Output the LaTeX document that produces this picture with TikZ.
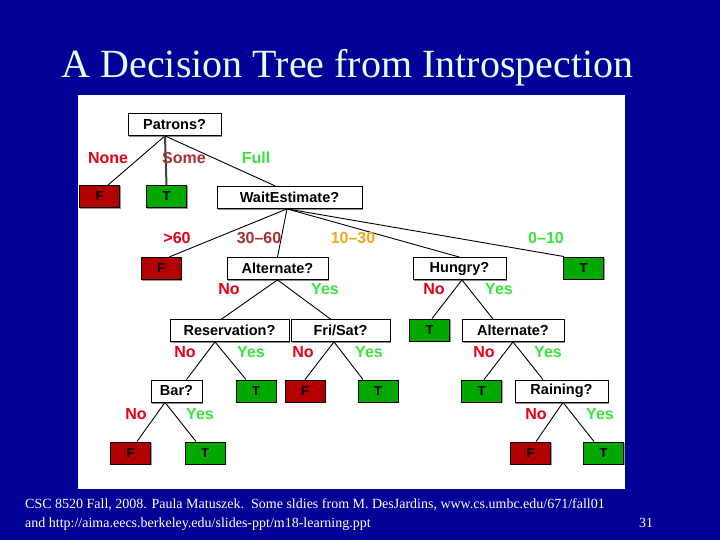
\documentclass[tikz,border=0pt]{standalone}
\usepackage{fontspec}
\setmainfont{Liberation Serif}
\setsansfont{Liberation Sans}
\newfontfamily\leaffont[Color=000000]{Liberation Sans Bold}
\usetikzlibrary{shadows,backgrounds}

\definecolor{slideblue}{RGB}{0,0,150}
\definecolor{titlecyan}{RGB}{225,255,255}
\definecolor{leafred}{RGB}{178,0,0}
\definecolor{leafgreen}{RGB}{0,168,0}
\definecolor{labred}{RGB}{226,0,24}
\definecolor{labbrown}{RGB}{170,48,48}
\definecolor{labgreen}{RGB}{60,226,60}
\definecolor{laborange}{RGB}{240,168,24}

\begin{document}
\begin{tikzpicture}[
  x=1pt, y=-1pt,
  test/.style={draw=black, fill=white, line width=0.8pt, inner sep=0pt,
    minimum height=22pt, font=\sffamily\bfseries\fontsize{14.5}{16}\selectfont,
    drop shadow={shadow xshift=1.2pt, shadow yshift=-1.6pt, fill=black!45, opacity=1}},
  leaf/.style={draw=black, line width=0.9pt, inner sep=0pt, minimum width=40pt,
    minimum height=22pt, font=\leaffont\fontsize{13}{15}\selectfont},
  leafbox/.style={fill=#1},
  lab/.style={inner sep=0pt, font=\sffamily\bfseries\fontsize{16}{18}\selectfont},
  br/.style={line width=0.9pt}
]
  \useasboundingbox (0,0) rectangle (720,540);

  \node[anchor=base, text=titlecyan, font=\fontsize{40}{44}\selectfont] (title) at (347.5,78)
    {A Decision Tree from Introspection};

  % questions
  \node[test, minimum width=93pt] (patrons) at (174.5,124.5) {Patrons?};
  \node[test, minimum width=145pt] (wait) at (289.5,197.5) {WaitEstimate?};
  \node[test, minimum width=101pt] (alt1) at (277.5,268.5) {Alternate?};
  \node[test, minimum width=93pt] (hungry) at (459.5,268.5) {Hungry?};
  \node[test, minimum width=119pt] (res) at (229.5,330.5) {Reservation?};
  \node[test, minimum width=99pt] (frisat) at (340.5,330.5) {Fri/Sat?};
  \node[test, minimum width=102pt] (alt2) at (513,330.5) {Alternate?};
  \node[test, minimum width=51pt] (bar) at (176.5,391) {Bar?};
  \node[test, minimum width=93pt] (rain) at (561.5,391) {Raining?};

  % leaves
  \node[leaf] (f1) at (99.5,196.5) {F};
  \node[leaf] (t1) at (166.5,196.5) {T};
  \node[leaf] (f2) at (161,268.5) {F};
  \node[leaf] (t2) at (583.5,268) {T};
  \node[leaf] (t6) at (429.5,330) {T};
  \node[leaf] (t3) at (256,391) {T};
  \node[leaf] (f3) at (305,391) {F};
  \node[leaf] (t4) at (378,391) {T};
  \node[leaf] (t7) at (481.5,391) {T};
  \node[leaf] (f4) at (130.5,453) {F};
  \node[leaf] (t5) at (205,453) {T};
  \node[leaf] (f5) at (530.5,453) {F};
  \node[leaf] (t8) at (603.5,453) {T};

  \begin{scope}[on background layer]
    \fill[slideblue] (0,0) rectangle (720,540);
    \fill[white] (78,95) rectangle (625,489);
    \foreach \n in {f1,f2,f3,f4,f5}
      \fill[black!40] ([shift={(1pt,-1pt)}]\n.north west) rectangle ([shift={(1pt,-1pt)}]\n.south east);
    \foreach \n in {t1,t2,t3,t4,t5,t6,t7,t8}
      \fill[black!40] ([shift={(1pt,-1pt)}]\n.north west) rectangle ([shift={(1pt,-1pt)}]\n.south east);
    \foreach \n in {f1,f2,f3,f4,f5}
      \fill[leafbox=leafred] (\n.north west) rectangle (\n.south east);
    \foreach \n in {t1,t2,t3,t4,t5,t6,t7,t8}
      \fill[leafbox=leafgreen] (\n.north west) rectangle (\n.south east);
  \end{scope}

  % branches
  \draw[br] ([xshift=-9.5pt]patrons.south) -- ([xshift=8.5pt]f1.north);
  \draw[line width=2pt, black!75] ([xshift=-9.5pt]patrons.south) -- (t1.north);
  \draw[br] ([xshift=-9.5pt]patrons.south) -- ([xshift=-14pt]wait.north);
  \draw[br] ([xshift=-2.5pt]wait.south) -- ([xshift=8pt]f2.north);
  \draw[br] ([xshift=-2.5pt]wait.south) -- (alt1.north);
  \draw[br] ([xshift=-2.5pt]wait.south) -- (hungry.north);
  \draw[br] ([xshift=-2.5pt]wait.south) -- ([xshift=1pt]t2.north west);
  \draw[br] (alt1.south) -- ([xshift=-8pt]res.north);
  \draw[br] (alt1.south) -- ([xshift=-10pt]frisat.north);
  \draw[br] ([xshift=-14.5pt]res.south) -- ([xshift=10pt]bar.north);
  \draw[br] ([xshift=-14.5pt]res.south) -- ([xshift=-10pt]t3.north);
  \draw[br] ([xshift=-6.5pt]frisat.south) -- (f3.north);
  \draw[br] ([xshift=-6.5pt]frisat.south) -- ([xshift=-15pt]t4.north);
  \draw[br] ([xshift=-11.5pt]bar.south) -- ([xshift=6.5pt]f4.north);
  \draw[br] ([xshift=-11.5pt]bar.south) -- ([xshift=-9pt]t5.north);
  \draw[br] ([xshift=2.5pt]hungry.south) -- ([xshift=2.5pt]t6.north);
  \draw[br] ([xshift=2.5pt]hungry.south) -- ([xshift=-20pt]alt2.north);
  \draw[br] (alt2.south) -- ([xshift=2.5pt]t7.north);
  \draw[br] (alt2.south) -- ([xshift=-18.5pt]rain.north);
  \draw[br] ([xshift=1.5pt]rain.south) -- ([xshift=5.5pt]f5.north);
  \draw[br] ([xshift=1.5pt]rain.south) -- ([xshift=-9.5pt]t8.north);

  % branch labels
  \node[lab, text=labred] (none) at (108,158) {None};
  \node[lab, text=labbrown] (some) at (184,158) {Some};
  \node[lab, text=labgreen] (full) at (256,158) {Full};
  \node[lab, text=labred] (over60) at (177,238) {>60};
  \node[lab, text=labbrown] (w3060) at (259,238) {30--60};
  \node[lab, text=laborange] (w1030) at (353,238) {10--30};
  \node[lab, text=labgreen] (w010) at (546,238) {0--10};
  \node[lab, text=labred] (a1no) at (229,289) {No};
  \node[lab, text=labgreen] (a1yes) at (325,289) {Yes};
  \node[lab, text=labred] (hno) at (434,289) {No};
  \node[lab, text=labgreen] (hyes) at (499,289) {Yes};
  \node[lab, text=labred] (rno) at (185,352) {No};
  \node[lab, text=labgreen] (ryes) at (251,352) {Yes};
  \node[lab, text=labred] (fno) at (303,352) {No};
  \node[lab, text=labgreen] (fyes) at (369,352) {Yes};
  \node[lab, text=labred] (a2no) at (484,352) {No};
  \node[lab, text=labgreen] (a2yes) at (548,352) {Yes};
  \node[lab, text=labred] (bno) at (136,414) {No};
  \node[lab, text=labgreen] (byes) at (200,414) {Yes};
  \node[lab, text=labred] (rnno) at (536,414) {No};
  \node[lab, text=labgreen] (rnyes) at (600,414) {Yes};

  % footer
  \node[anchor=base west, text=white, inner sep=0pt, font=\fontsize{14}{16}\selectfont] (src1) at (25,508)
    {CSC 8520 Fall, 2008. Paula Matuszek.\ \ Some sldies from M. DesJardins, www.cs.umbc.edu/671/fall01};
  \node[anchor=base west, text=white, inner sep=0pt, font=\fontsize{14}{16}\selectfont] (src2) at (25,527)
    {and http://aima.eecs.berkeley.edu/slides-ppt/m18-learning.ppt};
  \node[anchor=base west, text=white, inner sep=0pt, font=\fontsize{14}{16}\selectfont] (page) at (639,527) {31};
\end{tikzpicture}
\end{document}
